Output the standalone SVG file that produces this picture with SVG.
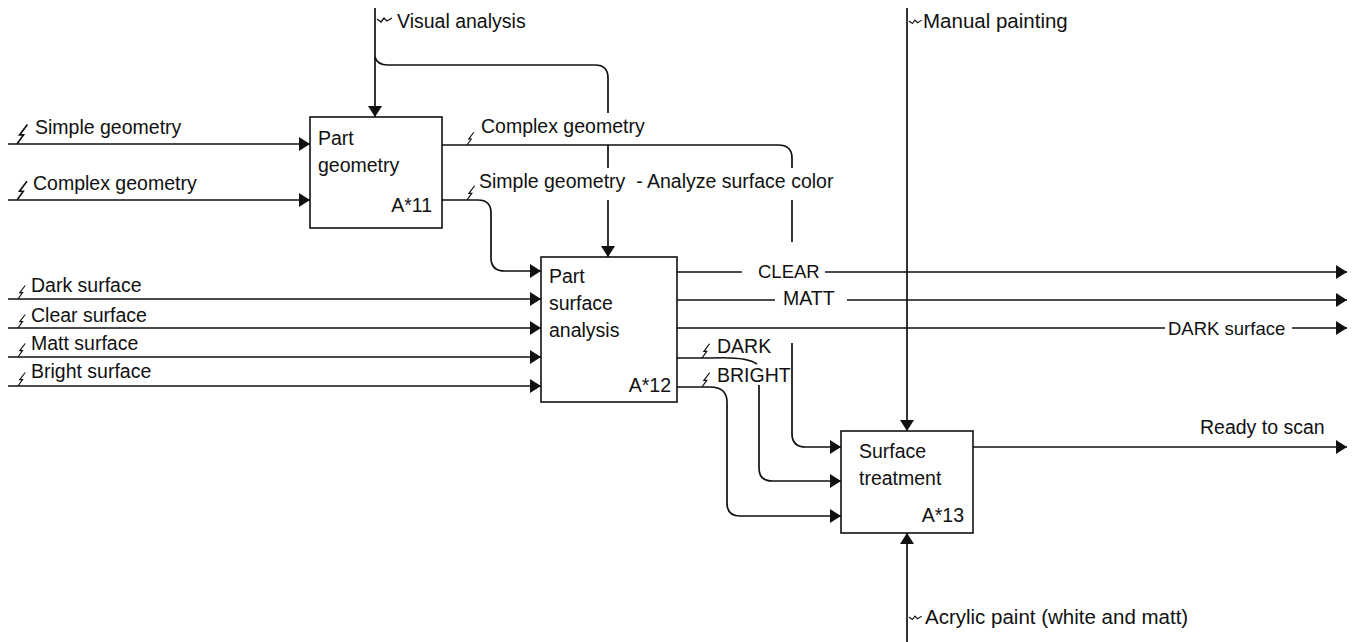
<svg xmlns="http://www.w3.org/2000/svg" xmlns:xlink="http://www.w3.org/1999/xlink" width="1354" height="642" viewBox="0 0 1354 642">
<style>
text{font-family:"Liberation Sans",Arial,sans-serif;font-size:19.5px;fill:#111;white-space:pre}
.wide{font-size:20.5px}
.narrow{font-size:18.5px}
.box{fill:#fff;stroke:#111;stroke-width:1.6}
.c path,.c line{fill:none;stroke:#111;stroke-width:1.7}
.t{fill:none;stroke:#111;stroke-width:1.3}
.end{text-anchor:end}
</style>
<defs>
<marker id="ar" markerUnits="userSpaceOnUse" markerWidth="12" markerHeight="14" refX="11" refY="7" orient="auto">
<path d="M0,0 L11,7 L0,14 Z" fill="#111"/>
</marker>
<path id="bolt" d="M0,0 l5,-7 l-3,0 l6,-8"/>
<path id="tilde" d="M0,0 l4,3 l3,-4 l3,3 l5,-3"/>
</defs>
<rect width="1354" height="642" fill="#fff"/>

<g id="connectors" class="c">
<path d="M8,144 H310" marker-end="url(#ar)"/>
<path d="M8,200 H310" marker-end="url(#ar)"/>
<path d="M375,8 V117" marker-end="url(#ar)"/>
<path d="M375,57 Q377,65 388,65 H595 Q608,65 608,78 V113"/>
<path d="M608,145 V168"/>
<path d="M608,200 V257" marker-end="url(#ar)"/>
<path d="M442,145 H778 Q792,145 792,158 V168"/>
<path d="M792,200 V242"/>
<path d="M792,343 V434 Q792,447 806,447 H841" marker-end="url(#ar)"/>
<path d="M442,200 H478 Q491,200 491,213 V258 Q491,271 505,271 H541" marker-end="url(#ar)"/>
<path d="M8,299 H541" marker-end="url(#ar)"/>
<path d="M8,328 H541" marker-end="url(#ar)"/>
<path d="M8,357 H541" marker-end="url(#ar)"/>
<path d="M8,386 H541" marker-end="url(#ar)"/>
<path d="M677,272 H742"/>
<path d="M825,272 H1347" marker-end="url(#ar)"/>
<path d="M677,300 H775"/>
<path d="M847,300 H1347" marker-end="url(#ar)"/>
<path d="M677,328 H1165"/>
<path d="M1292,328 H1347" marker-end="url(#ar)"/>
<path d="M677,358 H712 C735,357 750,359 757,364"/>
<path d="M759,385 V468 Q759,481 772,481 H841" marker-end="url(#ar)"/>
<path d="M677,387 H710 Q727,387 727,402 V503 Q727,516 740,516 H841" marker-end="url(#ar)"/>
<path d="M907,8 V431" marker-end="url(#ar)"/>
<path d="M973,447 H1347" marker-end="url(#ar)"/>
<path d="M907,642 V533" marker-end="url(#ar)"/>
</g>

<g id="ticks" class="t">
<use xlink:href="#bolt" transform="translate(17,144) scale(1.3)"/>
<use xlink:href="#bolt" transform="translate(17,200) scale(1.25)"/>
<use xlink:href="#bolt" transform="translate(18,299) scale(0.9)"/>
<use xlink:href="#bolt" transform="translate(18,328) scale(0.9)"/>
<use xlink:href="#bolt" transform="translate(18,357) scale(0.9)"/>
<use xlink:href="#bolt" transform="translate(18,386) scale(0.9)"/>
<use xlink:href="#bolt" transform="translate(467,145) scale(0.85)"/>
<use xlink:href="#bolt" transform="translate(467,200) scale(0.95)"/>
<use xlink:href="#bolt" transform="translate(702,358) scale(0.95)"/>
<use xlink:href="#bolt" transform="translate(702,387) scale(0.95)"/>
<use xlink:href="#tilde" transform="translate(377,19)"/>
<use xlink:href="#tilde" transform="translate(909,21) scale(0.85)"/>
<use xlink:href="#tilde" transform="translate(909,617) scale(0.85)"/>
</g>

<g id="A11">
<rect class="box" x="310" y="117" width="132" height="111"/>
<text x="318" y="145">Part</text>
<text x="318" y="172">geometry</text>
<text class="end" x="432" y="212">A*11</text>
</g>

<g id="A12">
<rect class="box" x="541" y="257" width="136" height="145"/>
<text x="549" y="283">Part</text>
<text x="549" y="310">surface</text>
<text x="549" y="337">analysis</text>
<text class="end" x="671" y="392">A*12</text>
</g>

<g id="A13">
<rect class="box" x="841" y="431" width="132" height="102"/>
<text x="859" y="458">Surface</text>
<text x="859" y="485">treatment</text>
<text class="end" x="964" y="522">A*13</text>
</g>

<g id="labels">
<text x="397" y="28">Visual analysis</text>
<text class="wide" x="923" y="28">Manual painting</text>
<text x="35" y="134">Simple geometry</text>
<text x="33" y="190">Complex geometry</text>
<text x="481" y="133">Complex geometry</text>
<text x="479" y="188">Simple geometry  - Analyze surface color</text>
<text x="31" y="292">Dark surface</text>
<text x="31" y="322">Clear surface</text>
<text x="31" y="350">Matt surface</text>
<text x="31" y="378">Bright surface</text>
<text class="narrow" x="758" y="278">CLEAR</text>
<text x="783" y="305">MATT</text>
<text class="narrow" x="1168" y="335">DARK surface</text>
<text x="717" y="353">DARK</text>
<text x="717" y="382">BRIGHT</text>
<text x="1200" y="434">Ready to scan</text>
<text class="wide" x="925" y="624">Acrylic paint (white and matt)</text>
</g>
</svg>
